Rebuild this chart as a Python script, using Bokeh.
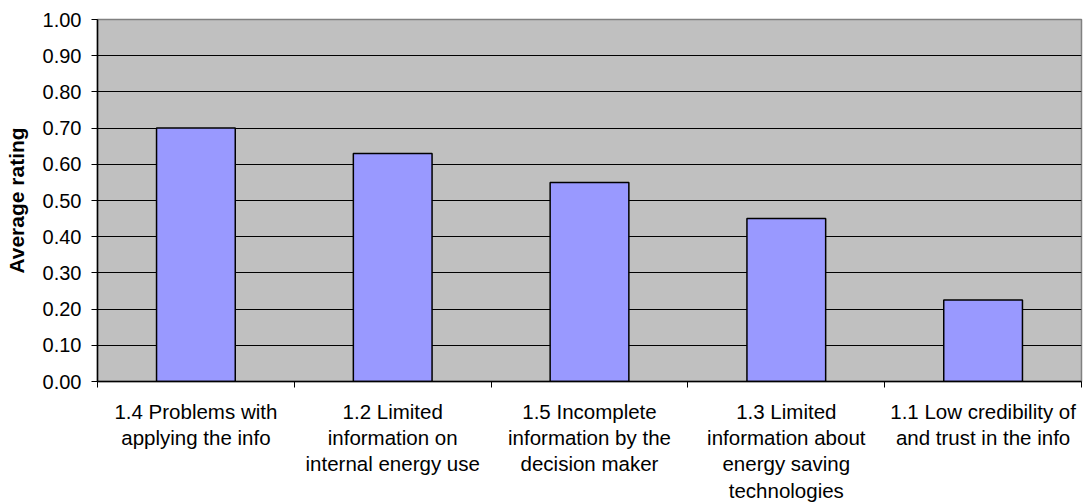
from bokeh.plotting import figure
from bokeh.models import FixedTicker, LinearAxis, Range1d, ColumnDataSource, NumeralTickFormatter
from bokeh.embed import file_html
from bokeh.resources import INLINE

# Barrier categories (in ranked order) and their average ratings
categories = [
    "1.4 Problems with\napplying the info",
    "1.2 Limited\ninformation on\ninternal energy use",
    "1.5 Incomplete\ninformation by the\ndecision maker",
    "1.3 Limited\ninformation about\nenergy saving\ntechnologies",
    "1.1 Low credibility of\nand trust in the info",
]
ratings = [0.70, 0.63, 0.55, 0.45, 0.225]
y_ticks = [0.0, 0.1, 0.2, 0.3, 0.4, 0.5, 0.6, 0.7, 0.8, 0.9, 1.0]

FONT = "Liberation Sans"

n = len(categories)
centers = [i + 0.5 for i in range(n)]
boundaries = list(range(n + 1))
source = ColumnDataSource(dict(x=centers, top=ratings))

p = figure(
    width=1085, height=504,
    x_range=Range1d(0, n), y_range=Range1d(0, 1),
    output_backend="svg", toolbar_location=None,
    x_axis_location=None, y_axis_location=None,
    min_border_left=97, min_border_right=4,
    min_border_top=19, min_border_bottom=123,
)
p.background_fill_color = "#C0C0C0"
p.border_fill_color = "white"
p.outline_line_color = "#808080"
p.outline_line_width = 1.5

# y axis
yaxis = LinearAxis(
    ticker=FixedTicker(ticks=y_ticks),
    formatter=NumeralTickFormatter(format="0.00"),
    axis_label="Average rating",
)
yaxis.axis_label_text_font = FONT
yaxis.axis_label_text_font_style = "bold"
yaxis.axis_label_text_font_size = "21px"
yaxis.axis_label_text_color = "black"
yaxis.axis_label_standoff = 12
yaxis.major_label_text_font = FONT
yaxis.major_label_text_font_size = "20px"
yaxis.major_label_text_color = "black"
yaxis.major_label_standoff = 10
yaxis.major_tick_out = 6
yaxis.major_tick_in = 0
yaxis.minor_tick_out = 0
yaxis.minor_tick_in = 0
yaxis.axis_line_color = "black"
yaxis.axis_line_width = 1.5
yaxis.major_tick_line_color = "black"
p.add_layout(yaxis, "left")

# x axis: names centred under each bar, tick marks at category boundaries
xaxis = LinearAxis(ticker=FixedTicker(ticks=centers, minor_ticks=boundaries))
xaxis.major_label_overrides = {c: name for c, name in zip(centers, categories)}
xaxis.major_label_text_font = FONT
xaxis.major_label_text_font_size = "20.5px"
xaxis.major_label_text_color = "black"
xaxis.major_label_text_line_height = 1.15
xaxis.major_label_standoff = 12
xaxis.major_tick_out = 0
xaxis.major_tick_in = 0
xaxis.minor_tick_out = 6
xaxis.minor_tick_in = 0
xaxis.minor_tick_line_color = "black"
xaxis.axis_line_color = "black"
xaxis.axis_line_width = 1.5
p.add_layout(xaxis, "below")

p.xgrid.visible = False
p.ygrid.ticker = FixedTicker(ticks=y_ticks)
p.ygrid.grid_line_color = "black"
p.ygrid.grid_line_width = 1

p.vbar(x="x", top="top", width=0.4, source=source,
       fill_color="#9999FF", line_color="black", line_width=1.5)

open("out.html", "w").write(file_html(p, INLINE))
